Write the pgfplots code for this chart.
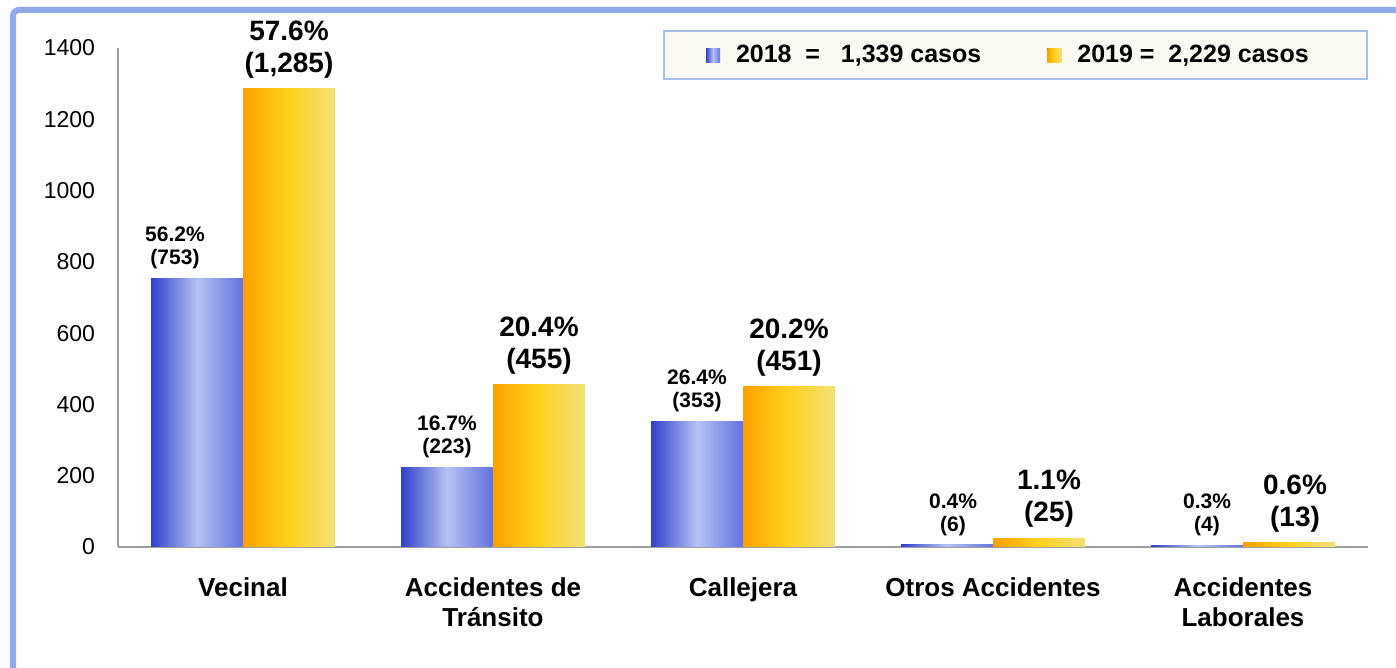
\documentclass[border=0pt]{standalone}
\usepackage{pgfplots}
\pgfplotsset{compat=1.18}
\usepackage{fontspec}
\setmainfont{Liberation Sans}

\definecolor{framec}{HTML}{8FAAE8}
\definecolor{legborder}{HTML}{A9BEEB}
\definecolor{legfill}{HTML}{FAFAF2}
\definecolor{b1}{HTML}{3040C8}
\definecolor{b2}{HTML}{B4C3F2}
\definecolor{b3}{HTML}{6272E0}
\definecolor{y1}{HTML}{FFA000}
\definecolor{y2}{HTML}{FFD21F}
\definecolor{y3}{HTML}{F3E07A}

\pgfplotsset{
  bluebar/.style={ybar, bar width=46pt, bar shift=-23pt, draw=none,
    left color=b1, right color=b3, middle color=b2,
    nodes near coords, point meta=explicit symbolic,
    every node near coord/.append style={font=\bfseries\fontsize{10.5}{11.5}\selectfont, align=center, inner sep=0pt, yshift=4.5pt, xshift=-23pt, anchor=south}},
  yellowbar/.style={ybar, bar width=46pt, bar shift=23pt, draw=none,
    left color=y1, right color=y3, middle color=y2,
    nodes near coords, point meta=explicit symbolic,
    every node near coord/.append style={font=\bfseries\fontsize{14}{16}\selectfont, align=center, inner sep=0pt, yshift=5pt, xshift=23pt, anchor=south}},
}

\begin{document}
\begin{tikzpicture}
\useasboundingbox (0,0) rectangle (698pt,334pt);
\draw[framec, line width=3pt, rounded corners=3pt] (6.5pt,0pt) -- (6.5pt,329pt) -- (698pt,329pt);
\begin{axis}[
  at={(59pt,60.5pt)}, anchor=south west,
  scale only axis, width=625pt, height=249.5pt,
  xmin=-0.5, xmax=4.5, ymin=0, ymax=1400,
  axis x line*=bottom, axis y line*=left,
  axis line style={draw=gray!75, line width=0.8pt, -},
  major tick length=0pt,
  ytick={0,200,...,1400},
  yticklabel style={font=\fontsize{11.5}{13}\selectfont, xshift=-8pt},
  /pgf/number format/1000 sep={},
  /pgf/number format/assume math mode=true,
  xtick={0,1,2,3,4},
  xticklabels={Vecinal, {Accidentes de\\Tránsito}, Callejera, Otros Accidentes, {Accidentes\\Laborales}},
  xticklabel style={font=\bfseries\fontsize{13}{15}\selectfont, align=center, yshift=-12pt, anchor=north},
  legend columns=2,
  legend image code/.code={\fill[#1] (0pt,-3.5pt) rectangle (7pt,3.5pt); \path (0pt,0pt) -- (13pt,0pt);},
  legend style={at={(0.436,1.036)}, anchor=north west, draw=legborder, line width=1pt, fill=legfill,
    font=\bfseries\fontsize{12.5}{14}\selectfont,
    inner xsep=21pt, inner ysep=5pt,
    /tikz/every even column/.append style={column sep=31pt}},
]
\addplot[bluebar, every node near coord/.append style={xshift=-11pt}] coordinates {(0,753) [{56.2\%\\(753)}]};
\addlegendentry{2018 \ = \ \ 1,339 casos}
\addplot[yellowbar] coordinates {(0,1285) [{57.6\%\\(1,285)}]};
\addlegendentry{2019 = \ 2,229 casos\hspace*{6pt}}
\addplot[bluebar, forget plot] coordinates {(1,223) [{16.7\%\\(223)}]};
\addplot[bluebar, forget plot] coordinates {(2,353) [{26.4\%\\(353)}]};
\addplot[bluebar, forget plot, every node near coord/.append style={xshift=3pt}] coordinates {(3,6) [{0.4\%\\(6)}]};
\addplot[bluebar, forget plot, every node near coord/.append style={xshift=5pt}] coordinates {(4,4) [{0.3\%\\(4)}]};
\addplot[yellowbar, forget plot] coordinates {(1,455) [{20.4\%\\(455)}]};
\addplot[yellowbar, forget plot] coordinates {(2,451) [{20.2\%\\(451)}]};
\addplot[yellowbar, forget plot, every node near coord/.append style={xshift=5pt}] coordinates {(3,25) [{1.1\%\\(25)}]};
\addplot[yellowbar, forget plot, every node near coord/.append style={xshift=3pt}] coordinates {(4,13) [{0.6\%\\(13)}]};
\end{axis}
\end{tikzpicture}
\end{document}
